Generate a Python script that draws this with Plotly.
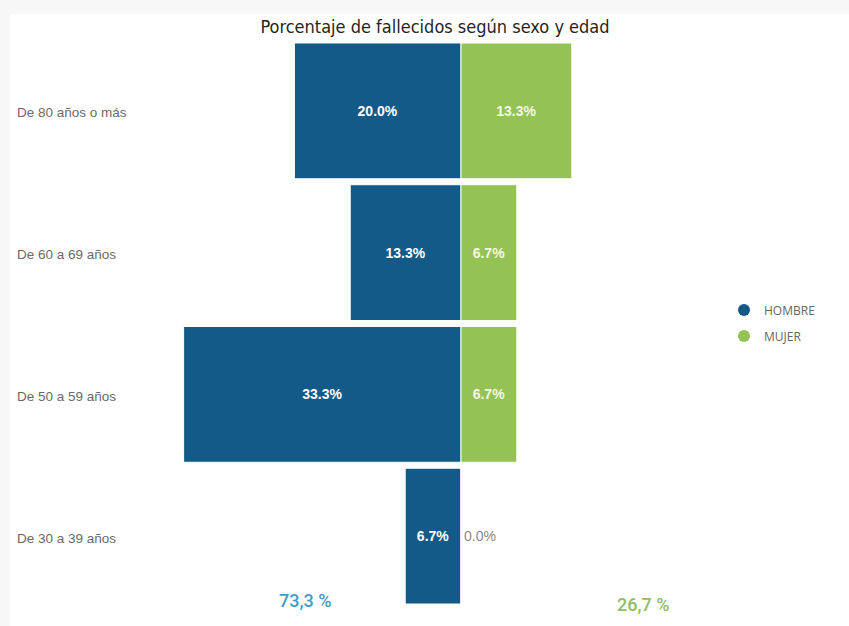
import plotly.graph_objects as go

# Data: percentage of deaths by sex and age group
age_groups = ["De 80 años o más", "De 60 a 69 años", "De 50 a 59 años", "De 30 a 39 años"]
hombre = [20.0, 13.3, 33.3, 6.7]
mujer = [13.3, 6.7, 6.7, 0.0]
series_names = ["HOMBRE", "MUJER"]

BLUE = "#135a88"
GREEN = "#94c354"
W, H = 849, 626
PX_PER_PCT = 8.33
CENTER_PX = 461

fig = go.Figure()


def pct(v):
    return f"{v:.1f}%"


def positions(vals):
    return ["inside" if v > 0 else "outside" for v in vals]


fig.add_trace(go.Bar(
    y=age_groups, x=[-v for v in hombre], orientation="h",
    marker=dict(color=BLUE, line=dict(color="white", width=1)),
    text=[pct(v) for v in hombre], textposition=positions(hombre),
    insidetextanchor="middle",
    insidetextfont=dict(color="white", size=14, family="Liberation Sans, Arial", weight="bold"),
    outsidetextfont=dict(color="#8a8a8a", size=14, family="Liberation Sans, Arial"),
    showlegend=False, hoverinfo="skip", cliponaxis=False,
))
fig.add_trace(go.Bar(
    y=age_groups, x=mujer, orientation="h",
    marker=dict(color=GREEN, line=dict(color="white", width=1)),
    text=[pct(v) for v in mujer], textposition=positions(mujer),
    insidetextanchor="middle",
    insidetextfont=dict(color="#f4f8e6", size=14, family="Liberation Sans, Arial", weight="bold"),
    outsidetextfont=dict(color="#8a8a8a", size=14, family="Liberation Sans, Arial"),
    showlegend=False, hoverinfo="skip", cliponaxis=False,
))

# Legend entries with round markers, one legend each for exact placement
for name, col, lg in [(series_names[0], BLUE, "legend"), (series_names[1], GREEN, "legend2")]:
    fig.add_trace(go.Scatter(
        x=[None], y=[None], mode="markers", name=name,
        marker=dict(color=col, size=12, symbol="circle"), legend=lg,
    ))

x_min = -CENTER_PX / PX_PER_PCT
x_max = (W - CENTER_PX) / PX_PER_PCT

annotations = []
# Category labels on the left
for g in age_groups:
    annotations.append(dict(
        x=15 / W, xref="paper", xanchor="left", y=g, yref="y", yshift=-2,
        text=g, showarrow=False,
        font=dict(size=13.5, color="#6a6a6a", family="Liberation Sans, Arial"),
    ))

# Totals per sex
tot_h = sum(hombre)
tot_m = sum(mujer)
annotations.append(dict(
    x=305 / W, y=1 - 600 / H, xref="paper", yref="paper", xanchor="center", yanchor="middle",
    text=f"{tot_h:.1f} %".replace(".", ","), showarrow=False,
    font=dict(size=18, color="#3f9dc7", family="Roboto", weight=500),
))
annotations.append(dict(
    x=643 / W, y=1 - 604 / H, xref="paper", yref="paper", xanchor="center", yanchor="middle",
    text=f"{tot_m:.1f} %".replace(".", ","), showarrow=False,
    font=dict(size=18, color="#93bd62", family="Roboto", weight=500),
))

legend_font = dict(size=12, color="#666666", family="Open Sans, Noto Sans")

fig.update_layout(
    width=W, height=H,
    margin=dict(l=0, r=0, t=0, b=0),
    paper_bgcolor="#f7f7f7",
    plot_bgcolor="rgba(0,0,0,0)",
    barmode="relative",
    bargap=0.042,
    title=dict(
        text="Porcentaje de fallecidos según sexo y edad",
        x=435 / W, xanchor="center", y=1 - 27 / H, yanchor="middle",
        font=dict(size=18, color="#252423", family="DejaVu Sans Condensed, Roboto"),
    ),
    xaxis=dict(range=[x_min, x_max], domain=[0, 1], visible=False, fixedrange=True),
    yaxis=dict(
        categoryorder="array", categoryarray=age_groups, autorange="reversed",
        domain=[19 / H, 586 / H], visible=False,
    ),
    legend=dict(x=724 / W, xanchor="left", y=1 - 310 / H, yanchor="middle",
                bgcolor="rgba(0,0,0,0)", font=legend_font),
    legend2=dict(x=724 / W, xanchor="left", y=1 - 336 / H, yanchor="middle",
                 bgcolor="rgba(0,0,0,0)", font=legend_font),
    shapes=[dict(type="rect", xref="paper", yref="paper", x0=10 / W, x1=1.01,
                 y0=-0.01, y1=1 - 14 / H, fillcolor="white", line=dict(width=0), layer="below")],
    annotations=annotations,
)

fig.write_html("out.html")
